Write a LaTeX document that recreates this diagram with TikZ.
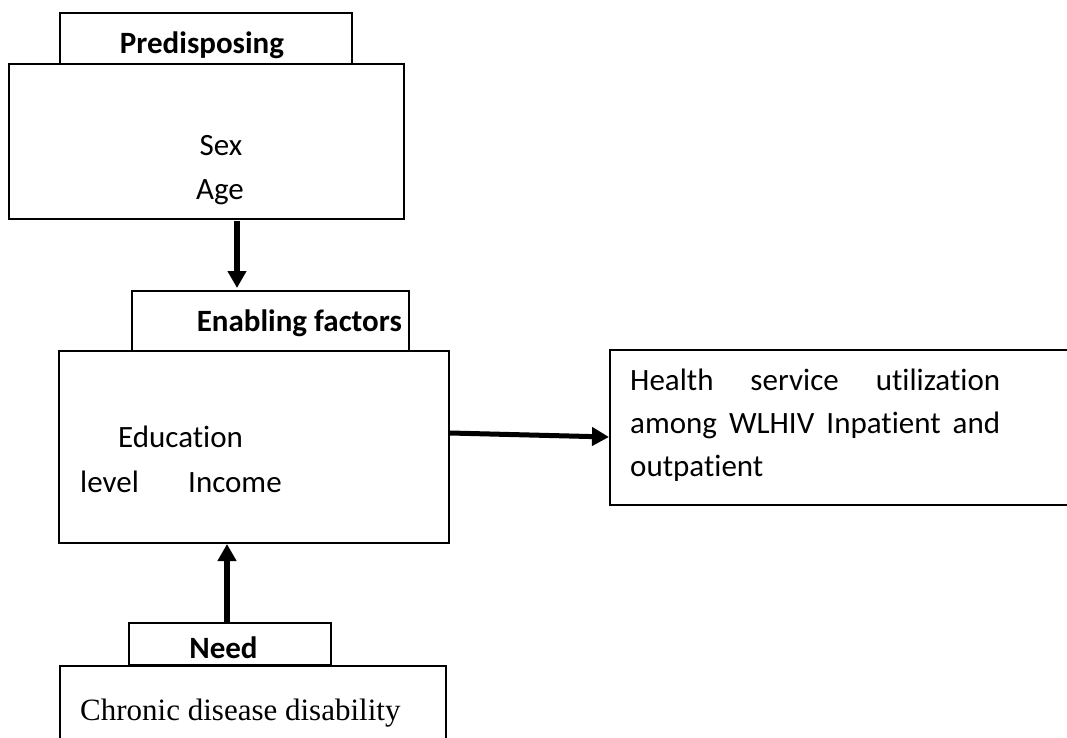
\documentclass[tikz,border=0pt]{standalone}
\usepackage{fontspec}
\setmainfont{Carlito}[Ligatures=NoCommon]
\newfontfamily\serifchronic{Liberation Serif}
\usetikzlibrary{arrows.meta}
\begin{document}
\begin{tikzpicture}[x=1pt,y=-1pt,
  boxstyle/.style={draw=black,line width=2pt,inner sep=0pt,fill=white},
  txt/.style={inner sep=0pt,font=\fontsize{31}{44}\selectfont},
  btxt/.style={inner sep=0pt,font=\fontsize{31}{44}\selectfont\bfseries},
  thickarrow/.style={line width=6pt,-{Triangle[length=17pt,width=18pt]}}]
\useasboundingbox (0,0) rectangle (1067,738);
% Predisposing
\node[boxstyle,minimum width=395pt,minimum height=155pt] (pre) at (206.5,141.5) {};
\node[boxstyle,minimum width=292pt,minimum height=51pt] (pretab) at (206,38.5) {};
\node[btxt,anchor=base] (pretxt) at (202,54) {Predisposing};
\node[txt,anchor=base] (sex) at (221,156) {Sex};
\node[txt,anchor=base] (age) at (220,200) {Age};
% Enabling
\node[boxstyle,minimum width=390pt,minimum height=192pt] (enab) at (254,447) {};
\node[boxstyle,minimum width=277pt,minimum height=60pt] (enabtab) at (270.5,321) {};
\node[btxt,anchor=base east] (enabtxt) at (402,331) {Enabling factors};
\node[txt,anchor=base west] (edu) at (118,447) {Education};
\node[txt,anchor=base west] (lvl) at (80,492) {level};
\node[txt,anchor=base west] (inc) at (188,492) {Income};
% Need
\node[boxstyle,minimum width=386pt,minimum height=100pt,anchor=north west] (chron) at (59,665) {};
\node[boxstyle,minimum width=202pt,minimum height=42pt] (needtab) at (230,644) {};
\node[btxt,anchor=base] (needtxt) at (223.5,658) {Need};
\node[inner sep=0pt,anchor=base west,font=\fontsize{31}{44}\serifchronic] (chrontxt) at (80,720) {Chronic disease disability};
% Outcome
\node[boxstyle,minimum width=480pt,minimum height=155pt,anchor=north west] (out) at (609,349) {};
\node[inner sep=0pt,anchor=north west,text width=370pt,align=justify,font=\fontsize{31}{43}\selectfont] (outtxt) at (630,369)
  {Health service utilization\linebreak among WLHIV Inpatient and\linebreak outpatient};
% Arrows
\draw[thickarrow,shorten >=2pt] ([xshift=30.5pt,yshift=-1pt]pre.south) -- ([xshift=-33.5pt]enabtab.north);
\draw[thickarrow,line width=5pt] ([yshift=14pt]enab.east) -- ([yshift=-9.5pt]out.west);
\draw[thickarrow] ([xshift=-3pt]needtab.north) -- ([xshift=-27pt]enab.south);
\end{tikzpicture}
\end{document}
